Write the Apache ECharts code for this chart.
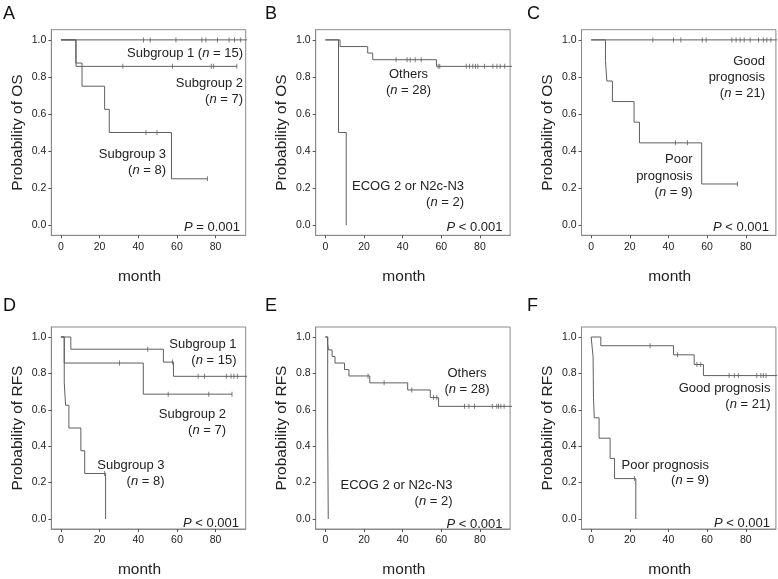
<!DOCTYPE html>
<html>
<head>
<meta charset="utf-8">
<script src="https://cdn.jsdelivr.net/npm/echarts@6/dist/echarts.min.js"></script>
<style>
  html, body { margin: 0; padding: 0; background: #fff; }
  #main { width: 778px; height: 579px; }
</style>
</head>
<body>
<div id="main"></div>
<script>
var FONT = '"Liberation Sans", Arial, Helvetica, sans-serif';
var LINE = '#5f5f5f';

var panelLetters = ['A', 'B', 'C', 'D', 'E', 'F'];
var yTitles = ['Probability of OS', 'Probability of OS', 'Probability of OS',
               'Probability of RFS', 'Probability of RFS', 'Probability of RFS'];
var xTitle = 'month';
var xTicks = [0, 20, 40, 60, 80];
var yTicks = [0, 0.2, 0.4, 0.6, 0.8, 1.0];

// Kaplan-Meier curves: event times, survival after each event, censored times, last follow-up
// A - OS by subgroup
var aSub1T = [0],                               aSub1S = [1];
var aSub1C = [42.7, 46.2, 59.5, 72.9, 75, 81, 87, 89.8, 93];
var aSub2T = [0, 7.8],                          aSub2S = [1, 0.857];
var aSub2C = [32, 57.7, 77.8, 79, 91];
var aSub3T = [0, 7.7, 10.9, 22.6, 25, 57.2],    aSub3S = [1, 0.875, 0.75, 0.625, 0.5, 0.25];
var aSub3C = [44, 49.7, 75.8];
// B - OS, others vs ECOG 2 or N2c-N3
var bOthT = [0, 7.6, 21.9, 24.5, 57.5],         bOthS = [1, 0.964, 0.929, 0.893, 0.857];
var bOthC = [36.6, 42.3, 43.9, 46.5, 49.6, 58.4, 59.2, 72.9, 74.6, 76.3, 77.7, 78.9, 82.4, 86.7, 88.8, 90.5, 92.8];
var bEcoT = [0, 6.8, 10.8],                     bEcoS = [1, 0.5, 0];
var bEcoC = [];
// C - OS, good vs poor prognosis
var cGoodT = [0],                               cGoodS = [1];
var cGoodC = [31.9, 42.6, 46.4, 57.5, 59.5, 72.8, 75, 77.1, 79.2, 82.3, 86.6, 89.1, 90.9, 93];
var cPoorT = [0, 7.4, 8.1, 11, 22.2, 25, 57.2], cPoorS = [1, 0.889, 0.778, 0.667, 0.556, 0.444, 0.222];
var cPoorC = [43.6, 49.8, 75.7];
// D - RFS by subgroup
var dSub1T = [0, 5.1, 53, 58.2],                dSub1S = [1, 0.933, 0.862, 0.784];
var dSub1C = [44.9, 57.7, 71, 74.3, 85.6, 88, 89.5, 91.3];
var dSub2T = [0, 1.7, 42.6],                    dSub2S = [1, 0.857, 0.686];
var dSub2C = [30.3, 55.5, 76.5, 88.5];
var dSub3T = [0, 1.7, 2.4, 4.1, 10.3, 12.3, 23.1], dSub3S = [1, 0.75, 0.625, 0.5, 0.375, 0.25, 0];
var dSub3C = [22.6];
// E - RFS, others vs ECOG 2 or N2c-N3
var eOthT = [0, 1.2, 1.6, 3.5, 5.0, 9.9, 12.2, 23, 42.6, 54.3, 58.6];
var eOthS = [1, 0.964, 0.929, 0.893, 0.857, 0.821, 0.786, 0.748, 0.709, 0.667, 0.619];
var eOthC = [22.1, 30.4, 44.7, 56, 57.7, 72, 74.3, 77.2, 86.4, 88.7, 89.6, 90.8, 92.5];
var eEcoT = [0, 1.2, 1.5],                      eEcoS = [1, 0.5, 0];
var eEcoC = [];
// F - RFS, good vs poor prognosis
var fGoodT = [0, 5.0, 42.6, 53.3, 58.1],        fGoodS = [1, 0.952, 0.902, 0.849, 0.788];
var fGoodC = [30.5, 44.7, 54.7, 56.7, 71.4, 74.1, 76.2, 85.7, 87.8, 89.1, 90.5];
var fPoorT = [0, 1.0, 1.1, 1.2, 1.6, 4.1, 9.8, 12.1, 23.1];
var fPoorS = [1, 0.889, 0.778, 0.667, 0.556, 0.444, 0.333, 0.222, 0];
var fPoorC = [22.4];

// curves per panel: [times, surv, censored, last follow-up]
var panelCurves = [
  [[aSub1T, aSub1S, aSub1C, 97], [aSub2T, aSub2S, aSub2C, 91], [aSub3T, aSub3S, aSub3C, 75.8]],
  [[bOthT, bOthS, bOthC, 97], [bEcoT, bEcoS, bEcoC, 10.8]],
  [[cGoodT, cGoodS, cGoodC, 97], [cPoorT, cPoorS, cPoorC, 75.7]],
  [[dSub1T, dSub1S, dSub1C, 97], [dSub2T, dSub2S, dSub2C, 88.5], [dSub3T, dSub3S, dSub3C, 23.1]],
  [[eOthT, eOthS, eOthC, 97], [eEcoT, eEcoS, eEcoC, 1.5]],
  [[fGoodT, fGoodS, fGoodC, 97], [fPoorT, fPoorS, fPoorC, 23.1]]
];

// annotation layout: [x, y, align, rich text]
var notes = [
  [243, 53.5, 'right', 'Subgroup 1 ({i|n} = 15)'],
  [243, 83.5, 'right', 'Subgroup 2'],
  [243, 99.5, 'right', '({i|n} = 7)'],
  [166, 154, 'right', 'Subgroup 3'],
  [166, 170, 'right', '({i|n} = 8)'],
  [240, 227.5, 'right', '{i|P} = 0.001'],
  [408.5, 74, 'center', 'Others'],
  [408.5, 90, 'center', '({i|n} = 28)'],
  [464, 186, 'right', 'ECOG 2 or N2c-N3'],
  [464, 202, 'right', '({i|n} = 2)'],
  [502.5, 227.5, 'right', '{i|P} < 0.001'],
  [765, 61.5, 'right', 'Good'],
  [765, 77.5, 'right', 'prognosis'],
  [765, 93.5, 'right', '({i|n} = 21)'],
  [692.5, 159.5, 'right', 'Poor'],
  [692.5, 176, 'right', 'prognosis'],
  [692.5, 192.5, 'right', '({i|n} = 9)'],
  [769, 227, 'right', '{i|P} < 0.001'],
  [236.5, 344.5, 'right', 'Subgroup 1'],
  [236.5, 360.5, 'right', '({i|n} = 15)'],
  [226, 414.5, 'right', 'Subgroup 2'],
  [226, 430.5, 'right', '({i|n} = 7)'],
  [164.5, 465, 'right', 'Subgroup 3'],
  [164.5, 481, 'right', '({i|n} = 8)'],
  [239, 523.5, 'right', '{i|P} < 0.001'],
  [467, 373.5, 'center', 'Others'],
  [467, 389, 'center', '({i|n} = 28)'],
  [452.5, 485, 'right', 'ECOG 2 or N2c-N3'],
  [452.5, 501, 'right', '({i|n} = 2)'],
  [502.5, 524, 'right', '{i|P} < 0.001'],
  [770.5, 388.5, 'right', 'Good prognosis'],
  [770.5, 404, 'right', '({i|n} = 21)'],
  [709, 465, 'right', 'Poor prognosis'],
  [709, 480.5, 'right', '({i|n} = 9)'],
  [770, 523.5, 'right', '{i|P} < 0.001']
];

var gridLefts = [51.3, 315.7, 581.5];
var gridTops = [29.7, 327];
var gridW = 194.4, gridH = 205.6;

function survAt(times, surv, t) {
  var v = surv[0];
  for (var i = 0; i < times.length; i++) if (times[i] <= t) v = surv[i];
  return v;
}

var grids = [], xAxes = [], yAxes = [], series = [], graphics = [];
for (let p = 0; p < 6; p++) {
  let left = gridLefts[p % 3], top = gridTops[Math.floor(p / 3)];
  grids.push({
    left: left, top: top, width: gridW, height: gridH,
    show: true, borderColor: '#8a8a8a', borderWidth: 1, backgroundColor: 'transparent'
  });
  xAxes.push({
    type: 'value', gridIndex: p, min: -5, max: 95.6,
    axisLine: { show: true, onZero: false, lineStyle: { color: '#8a8a8a', width: 1 } },
    axisTick: { show: true, customValues: xTicks, length: 3, lineStyle: { color: '#555' } },
    axisLabel: { customValues: xTicks, color: '#222', fontSize: 10.5, fontFamily: FONT, margin: 6 },
    splitLine: { show: false },
    name: xTitle, nameLocation: 'middle', nameGap: 33,
    nameTextStyle: { color: '#222', fontSize: 15.5, fontFamily: FONT, padding: [0, 18, 0, 0] }
  });
  yAxes.push({
    type: 'value', gridIndex: p, min: -0.055, max: 1.055,
    axisLine: { show: true, onZero: false, lineStyle: { color: '#8a8a8a', width: 1 } },
    axisTick: { show: true, customValues: yTicks, length: 3, lineStyle: { color: '#555' } },
    axisLabel: {
      customValues: yTicks, color: '#222', fontSize: 10.5, fontFamily: FONT, margin: 5,
      formatter: function (v) { return v.toFixed(1); }
    },
    splitLine: { show: false },
    name: yTitles[p], nameLocation: 'middle', nameGap: 26,
    nameTextStyle: { color: '#222', fontSize: 15.5, fontFamily: FONT }
  });
  panelCurves[p].forEach(function (c) {
    let times = c[0], surv = c[1], cens = c[2], last = c[3];
    let pts = times.map(function (t, i) { return [t, surv[i]]; });
    if (last > times[times.length - 1]) pts.push([last, surv[surv.length - 1]]);
    series.push({
      type: 'line', xAxisIndex: p, yAxisIndex: p, step: 'end', symbol: 'none',
      lineStyle: { color: LINE, width: 1 }, data: pts, silent: true, animation: false, clip: true
    });
    series.push({
      type: 'scatter', xAxisIndex: p, yAxisIndex: p, symbol: 'rect', symbolSize: [1, 5],
      itemStyle: { color: LINE }, silent: true, animation: false,
      data: cens.map(function (t) { return [t, survAt(times, surv, t)]; })
    });
  });
  graphics.push({
    type: 'text', left: (p % 3) * 262 + 3, top: Math.floor(p / 3) * 292 + 5,
    style: { text: panelLetters[p], font: '18px ' + FONT, fill: '#111' }
  });
}

notes.forEach(function (n) {
  graphics.push({
    type: 'text', x: n[0], y: n[1],
    style: {
      text: n[3], align: n[2], verticalAlign: 'middle', font: '13px ' + FONT, fill: '#222',
      rich: { i: { fontStyle: 'italic', fontSize: 13, fontFamily: FONT, fill: '#222' } }
    }
  });
});

var myChart = echarts.init(document.getElementById('main'), null, { renderer: 'canvas' });
myChart.setOption({
  backgroundColor: '#fff',
  animation: false,
  grid: grids,
  xAxis: xAxes,
  yAxis: yAxes,
  series: series,
  graphic: graphics
});
</script>
</body>
</html>
